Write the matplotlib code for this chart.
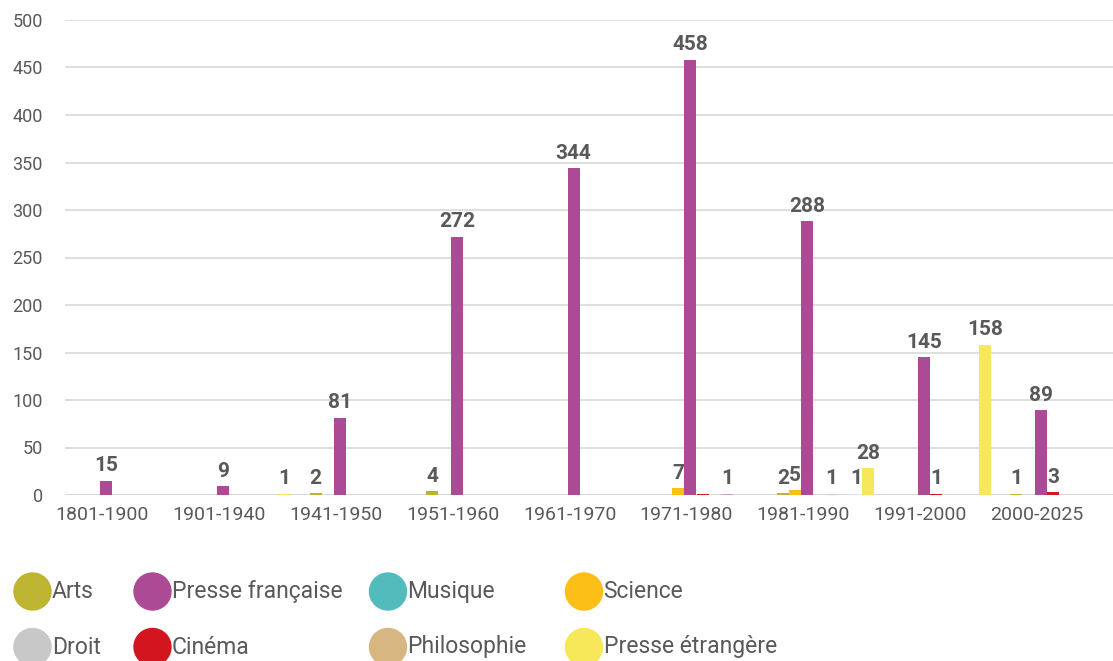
import matplotlib.pyplot as plt
from matplotlib.patches import Circle

plt.rcParams['font.family'] = ['Roboto', 'DejaVu Sans']

periodes = ["1801-1900", "1901-1940", "1941-1950", "1951-1960", "1961-1970",
            "1971-1980", "1981-1990", "1991-2000", "2000-2025"]

arts = [0, 0, 2, 4, 0, 0, 2, 0, 1]
science = [0, 0, 0, 0, 0, 7, 5, 0, 0]
presse_fr = [15, 9, 81, 272, 344, 458, 288, 145, 89]
cinema = [0, 0, 0, 0, 0, 1, 0, 1, 3]
autre_a = [0, 0, 0, 0, 0, 0, 1, 0, 0]
autre_b = [0, 0, 0, 0, 0, 1, 0, 0, 0]
autre_c = [0, 0, 0, 0, 0, 0, 1, 0, 0]
presse_etr = [0, 1, 0, 0, 0, 0, 28, 158, 0]

# series in the order they sit inside each group
series = [arts, science, presse_fr, cinema, autre_a, autre_b, autre_c, presse_etr]
couleurs = ["#BDB532", "#FBBF17", "#AD4A95", "#D3151F",
            "#DDBADB", "#C99CC7", "#EFDCEE", "#F7E859"]
# labels not shown on the chart (series index, period index)
sans_etiquette = {(3, 5)}

legende = ["Arts", "Presse française", "Musique", "Science",
           "Droit", "Cinéma", "Philosophie", "Presse étrangère"]
couleurs_legende = ["#BDB532", "#AD4A95", "#52BCBC", "#FBBF17",
                    "#C8C8C8", "#D3151F", "#D8B682", "#F7E859"]

gris = "#595959"
largeur = 0.103
pas = 0.1045
depart = -0.1755

fig = plt.figure(figsize=(11.13, 6.61), dpi=100)
ax = fig.add_axes([65 / 1113, 166 / 661, 1 - 65 / 1113, 475 / 661])

for k, (vals, c) in enumerate(zip(series, couleurs)):
    for i, v in enumerate(vals):
        if v == 0:
            continue
        x = i + depart + k * pas
        ax.bar(x, v, width=largeur, color=c, zorder=3)
        if (k, i) in sans_etiquette:
            continue
        ax.annotate(str(v), (x, v), xytext=(0, 4), textcoords="offset points",
                    ha="center", va="bottom", fontsize=15, fontweight="bold",
                    color=gris)

ax.set_xlim(-0.321, 8.652)
ax.set_ylim(0, 500)
ax.set_yticks(range(0, 501, 50))
ax.set_xticks(range(len(periodes)))
ax.set_xticklabels(periodes, fontsize=14, color=gris)
ax.tick_params(axis="y", labelsize=13, labelcolor=gris, length=0, pad=16)
ax.tick_params(axis="x", length=0, pad=8)
ax.grid(axis="y", color="#D9D9D9", linewidth=1.2, zorder=0)
for s in ax.spines.values():
    s.set_visible(False)
ax.axhline(0, color="#D9D9D9", linewidth=2, zorder=2)

# legend drawn in figure pixels
lg = fig.add_axes([0, 0, 1, 1])
lg.set_xlim(0, 1113)
lg.set_ylim(661, 0)
lg.axis("off")
colonnes = [32.5, 152.5, 388, 584]
lignes = [591.5, 647]
for n, (nom, c) in enumerate(zip(legende, couleurs_legende)):
    cx = colonnes[n % 4]
    cy = lignes[n // 4]
    lg.add_patch(Circle((cx, cy), 18.5, color=c, clip_on=False))
    lg.text(cx + 19.5, cy, nom, fontsize=16.5, color=gris, va="center", ha="left")

fig.savefig("out.png", dpi=100)
